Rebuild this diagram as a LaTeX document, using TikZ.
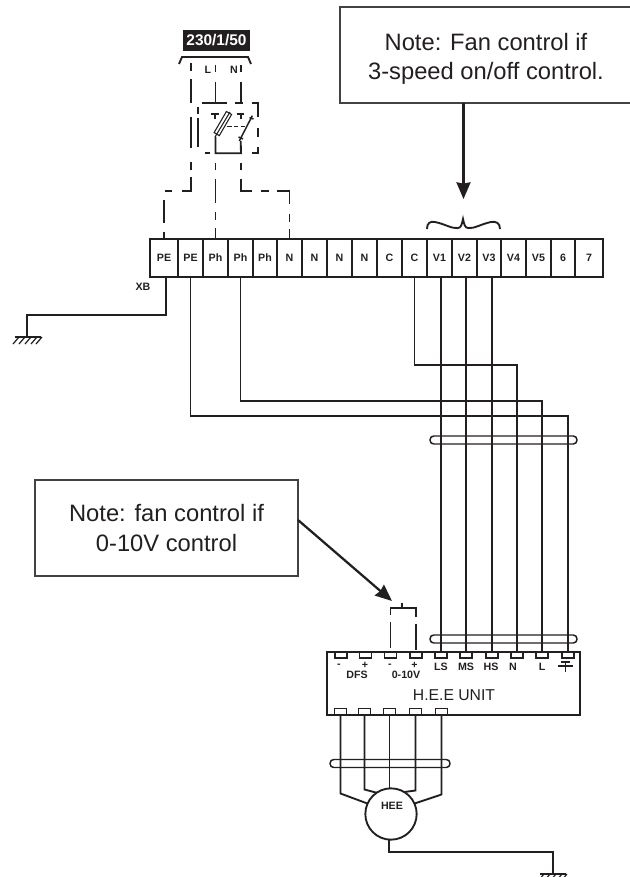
\documentclass[tikz,border=0pt]{standalone}
\usepackage{fontspec}
\setmainfont{Liberation Sans}
\usetikzlibrary{arrows.meta}
\definecolor{ink}{HTML}{231F20}
\tikzset{
  x=0.75pt,y=-0.75pt,
  wire/.style={draw=ink,line width=1.4pt},
  thinw/.style={draw=ink,line width=0.8pt},
  cellbox/.style={draw=ink,line width=1.4pt,rectangle,inner sep=0pt,outer sep=0pt,minimum height=28.5pt,text=ink,font=\fontsize{8}{9}\selectfont\bfseries},
  pin/.style={draw=ink,line width=1.1pt,rectangle,inner sep=0pt,outer sep=0pt,minimum width=9pt,minimum height=4.5pt,fill=white},
  band/.style={draw=ink,line width=1.1pt,rectangle,rounded corners=2.8pt,inner sep=0pt,outer sep=0pt,minimum height=6pt},
  notebox/.style={draw=ink!85,line width=0.8pt,rectangle,inner sep=0pt,outer sep=0pt,minimum height=72pt,align=center,text=ink,font=\fontsize{17.8}{22}\selectfont},
  lab/.style={inner sep=0pt,outer sep=0pt,text=ink,font=\fontsize{8}{9}\selectfont\bfseries},
  pointer/.style={draw=ink,line width=1.7pt,-{Stealth[length=12.5pt,width=10.5pt,inset=1pt]}}
}
\begin{document}
\begin{tikzpicture}
\useasboundingbox (0,0) rectangle (630,877);
% notes
\node[notebox,minimum width=219pt] (noteA) at (486,55) {\rule{0pt}{19pt}Note: Fan control if\\3-speed on/off control.};
\node[notebox,minimum width=197.25pt] (noteB) at (166.5,528) {Note: fan control if\\0-10V control};
% supply label
\node[fill=ink,text=white,inner sep=0pt,outer sep=0pt,minimum width=50pt,minimum height=15.5pt,font=\fontsize{11.6}{13}\selectfont\bfseries] (supply) at (216.5,40.5) {230/1/50};
\draw[wire] (179,64) -- (182,57) -- (248,57) -- (251,64);
\node[lab] (lblL) at (208,70) {L};
\node[lab] (lblN) at (234,70) {N};
% terminal strip
\foreach \n/\a/\b/\lbl in {1/150/178/PE,2/178/203/PE,3/203/228/Ph,4/228/253/Ph,5/253/277/Ph,6/277/302/N,7/302/327/N,8/327/352/N,9/352/377/N,10/377/402/C,11/402/427/C,12/427/452/V1,13/452/477/V2,14/477/501/V3,15/501/526/V4,16/526/551/V5,17/551/575/6,18/575/603/7}{
  \pgfmathsetmacro\cellw{(\b-\a)*0.75}
  \pgfmathsetmacro\cellx{(\a+\b)/2}
  \node[cellbox,minimum width=\cellw pt] (t\n) at (\cellx,258) {\lbl};
}
\node[lab] (xb) at (143,287) {XB};
% unit
\node[draw=ink,line width=1.4pt,rectangle,inner sep=0pt,outer sep=0pt,minimum width=189.75pt,minimum height=47.25pt] (unit) at (453.5,683.5) {};
\node[inner sep=0pt,text=ink,font=\fontsize{11.8}{13}\selectfont] (unitlabel) at (454,695) {H.E.E UNIT};
\foreach \n/\x in {a/341,b/365.5,c/390.5,d/416,e/441,f/466,g/492,h/517,i/542,j/568}{
  \node[pin] (u\n) at (\x,655) {};
}
\foreach \n/\x in {1/340.5,2/364.5,3/389.5,4/415.5,5/441.5}{
  \node[pin] (b\n) at (\x,711.5) {};
}
\node[lab] (ma) at (339,666) {-};
\node[lab] (pa) at (365,665) {+};
\node[lab] (mb) at (390,666) {-};
\node[lab] (pb) at (414.5,665) {+};
\node[lab] (dfs) at (357,675) {DFS};
\node[lab] (ztv) at (406,675) {0-10V};
\node[lab] (ls) at (441,667) {LS};
\node[lab] (ms) at (466,667) {MS};
\node[lab] (hs) at (491,667) {HS};
\node[lab] (nn) at (513,667) {N};
\node[lab] (ll) at (542,667) {L};
\draw[wire,line width=1.1pt] (565.5,661) -- (565.5,672) (558,666) -- (573,666) (561,662) -- (570,662);
% bands
\node[band,minimum width=110.25pt] (bandA) at (503.5,440) {};
\node[band,minimum width=110.25pt] (bandB) at (503.5,639) {};
\node[band,minimum width=90pt] (bandC) at (390,763.5) {};
% motor
\node[circle,draw=ink,line width=1.4pt,inner sep=0pt,outer sep=0pt,minimum size=38.5pt] (hee) at (391,814) {};
\node[lab] (heelab) at (392,806) {HEE};
% grounds
\coordinate (gA) at (27,337);
\coordinate (gB) at (553,874);
\draw[wire,line width=1.1pt] (15,337) -- (41,337);
\foreach \x in {19,25,31,37,42}{\draw[wire,line width=0.9pt] (\x,337) -- ++(-6,7);}
\draw[wire,line width=1.1pt] (540,874) -- (566,874);
\foreach \x in {544,550,556,562,567}{\draw[wire,line width=0.9pt] (\x,874) -- ++(-6,7);}
% wires from terminal strip
\draw[wire] ([xshift=1.5pt]t1.south) -- ++(0,38) -| (gA);
\draw[wire] (t2.south) -- ++(0,139) -| (uj.north);
\draw[wire] (t4.south) -- ++(0,124) -| (ui.north);
\draw[wire] (t11.south) -- ++(0,88) -| (uh.north);
\draw[wire] (ue.north |- t12.south) -- (ue.north);
\draw[wire] (uf.north |- t13.south) -- (uf.north);
\draw[wire] (ug.north |- t14.south) -- (ug.north);
% motor wires
\draw[wire] (b1.south) -- ++(0,79) -- (hee.156);
\draw[wire] (b2.south) -- ++(0,75) -- (hee.124);
\draw[wire] (b3.south) -- (b3.south |- hee.north);
\draw[wire] (b4.south) -- ++(0,76) -- (hee.59);
\draw[wire] (b5.south) -- ++(0,80) -- (hee.24);
\draw[wire] ([xshift=-1.5pt]hee.south) -- ++(0,12) -| (gB);
% supply dashed wires to the strip
\coordinate (swL) at (215.5,153.3);
\coordinate (swN) at (241,153.3);
\draw[wire,dash pattern=on 6pt off 6pt on 18pt off 10.5pt on 23.25pt off 10.5pt on 6pt off 5.25pt on 17.25pt off 7.5pt on 5.25pt off 7.5pt on 17.25pt off 6.75pt on 4.5pt off 20pt]
  (191,63) -- (191,191) -| (t1.north);
\draw[wire,dash pattern=on 0pt off 7.5pt on 5.25pt off 6.75pt on 18pt off 6.75pt on 6pt off 6pt on 7.5pt off 20pt]
  (swL) -- (swL |- t3.north);
\draw[wire,dash pattern=on 0pt off 7.5pt on 5.25pt off 6.75pt on 17.25pt off 6.75pt on 6pt off 6pt on 18.75pt off 7.5pt on 6pt off 5.25pt on 8.25pt off 20pt]
  (swN) |- (t6.north |- 0,191) -- (t6.north);
% L, N incoming
\draw[wire] (215.5,65) -- (215.5,72) (215.5,82) -- (215.5,103);
\draw[wire] (241,65) -- (241,72) (241,82) -- (241,103);
% protection box (dashed)
\draw[wire] (201.7,103) -- (227,103) (235,103) -- (243,103) (251.7,103) -- (258.3,103) -- (258.3,116.7)
  (258.3,128) -- (258.3,137) (258.3,147) -- (258.3,153.3) -- (251.7,153.3)
  (210,153.3) -- (205,153.3) (198.3,107) -- (198.3,114) (198.3,118) -- (198.3,147);
% switch
\draw[wire] (211,114.3) -- (219,114.3) (215.3,114.3) -- (215.3,119.3);
\draw[wire] (236.7,114.3) -- (244.3,114.3) (240.7,114.3) -- (240.7,119.3);
\draw[wire] (215.5,137) -- (swL) -- (swN) -- (240.7,141);
\draw[wire,line width=1.1pt] (239.3,141) -- (252.3,115.7) (238.5,137) -- (243,139) (249.5,117.7) -- (253.5,119);
\draw[thinw] (215,137) -- (230,112);
\draw[thinw] (214.1,132.6) -- (219.3,135.6) -- (231.6,114.5) -- (226.4,111.5) -- cycle;
\draw[wire,line width=1.1pt] (226.7,126.7) -- (231.7,126.7) (234,126.7) -- (238.3,126.7) (240.7,126.7) -- (245,126.7);
% bridge on 0-10V
\coordinate (brTop) at (403,608);
\draw[wire,dash pattern=on 0pt off 3pt on 19.5pt off 5.25pt on 30.75pt off 5.25pt on 19.5pt off 5pt]
  (uc.north) |- (brTop) -| (ud.north);
\draw[wire,line width=2pt] (uc.north |- brTop) -- (ud.north |- brTop);
\draw[wire,line width=1.1pt] (402,603) -- (402,608);
% brace
\draw[wire] (427,229) .. controls (427,223) and (430,221) .. (435,222) .. controls (445,224) and (452,229) .. (458,228) .. controls (461,228) and (462,224) .. (463,219) .. controls (464,224) and (465,228) .. (468,228) .. controls (474,229) and (481,224) .. (491,222) .. controls (496,221) and (500,223) .. (500,229);
% pointers
\coordinate (tipA) at (463.5,199);
\coordinate (tipB) at (392,601);
\draw[pointer] (tipA |- noteA.south) -- (tipA);
\draw[pointer] ([yshift=6pt]noteB.east) -- (tipB);
\end{tikzpicture}
\end{document}
